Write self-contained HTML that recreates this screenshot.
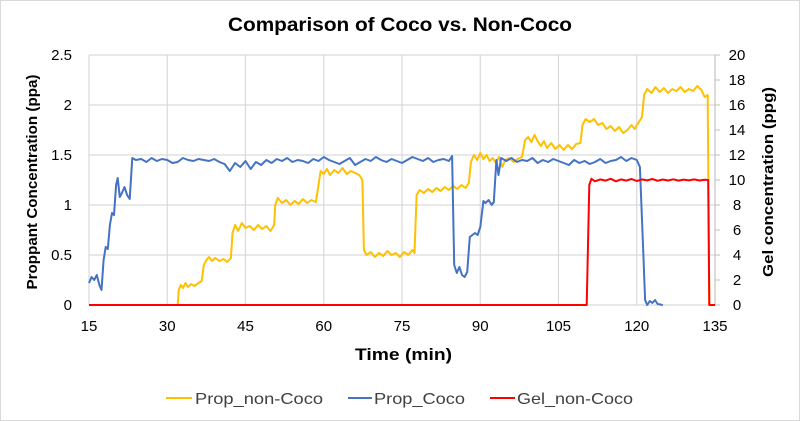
<!DOCTYPE html>
<html><head><meta charset="utf-8"><style>
body{margin:0;background:#fff;}
svg{display:block;font-family:"Liberation Sans",sans-serif;}
</style></head><body>
<svg id="chart" width="800" height="421" viewBox="0 0 800 421">
<rect x="0.5" y="0.5" width="799" height="420" fill="#fff" stroke="#d9d9d9"/>
<text x="228" y="31" font-size="19" font-weight="bold" fill="#000" textLength="344" lengthAdjust="spacingAndGlyphs">Comparison of Coco vs. Non-Coco</text>
<g id="grid"></g>
<g id="ticks"></g>
<g id="series"></g>
<text x="355" y="360" font-size="17" font-weight="bold" textLength="97" lengthAdjust="spacingAndGlyphs">Time (min)</text>
<text transform="translate(37,182) rotate(-90)" text-anchor="middle" font-size="15" font-weight="bold" textLength="215" lengthAdjust="spacingAndGlyphs">Proppant Concentration (ppa)</text>
<text transform="translate(773,182) rotate(-90)" text-anchor="middle" font-size="15" font-weight="bold" textLength="190" lengthAdjust="spacingAndGlyphs">Gel concentration (ppg)</text>
<g>
<g><line x1="166" y1="398" x2="192" y2="398" stroke="#ffc000" stroke-width="2"/><text x="195" y="404" font-size="16" fill="#404040" textLength="128" lengthAdjust="spacingAndGlyphs">Prop_non-Coco</text></g>
<g><line x1="348" y1="398" x2="372" y2="398" stroke="#4472c4" stroke-width="2"/><text x="374" y="404" font-size="16" fill="#404040" textLength="91" lengthAdjust="spacingAndGlyphs">Prop_Coco</text></g>
<g><line x1="490" y1="398" x2="515" y2="398" stroke="#ff0000" stroke-width="2"/><text x="517" y="404" font-size="16" fill="#404040" textLength="116" lengthAdjust="spacingAndGlyphs">Gel_non-Coco</text></g>
</g>
</svg>
<script>
const xTicks=[15,30,45,60,75,90,105,120,135];
const yLeftTicks=[0,0.5,1,1.5,2,2.5];
const yLeftLabels=["0","0.5","1","1.5","2","2.5"];
const yRightTicks=[0,2,4,6,8,10,12,14,16,18,20];
const propCoco=[[15,0.22],[15.5,0.28],[16,0.25],[16.5,0.3],[17,0.2],[17.4,0.15],[17.8,0.45],[18.2,0.58],[18.6,0.56],[19,0.8],[19.4,0.92],[19.8,0.9],[20.2,1.2],[20.5,1.27],[20.9,1.08],[21.3,1.12],[21.8,1.18],[22.3,1.1],[22.8,1.06],[23.3,1.47],[24,1.45],[25,1.46],[26,1.43],[27,1.47],[28,1.44],[29,1.46],[30,1.45],[31,1.42],[32,1.43],[33,1.47],[34,1.45],[35,1.44],[36,1.46],[37,1.45],[38,1.44],[39,1.46],[40,1.43],[41,1.41],[42,1.34],[43,1.42],[44,1.38],[45,1.44],[46,1.36],[47,1.43],[48,1.40],[49,1.45],[50,1.42],[51,1.46],[52,1.44],[53,1.47],[54,1.43],[55,1.45],[56,1.44],[57,1.42],[58,1.46],[59,1.44],[60,1.48],[61,1.45],[62,1.43],[63,1.41],[64,1.44],[65,1.47],[66,1.40],[67,1.43],[68,1.46],[69,1.44],[70,1.48],[71,1.45],[72,1.43],[73,1.46],[74,1.44],[75,1.42],[76,1.45],[77,1.48],[78,1.46],[79,1.44],[80,1.47],[81,1.43],[82,1.45],[83,1.46],[84,1.44],[84.6,1.49],[85,0.4],[85.5,0.32],[86,0.38],[86.5,0.3],[87,0.28],[87.5,0.33],[88,0.68],[88.5,0.7],[89,0.72],[89.5,0.7],[90,0.78],[90.6,1.04],[91,1.02],[91.6,1.05],[92.2,1.0],[92.6,1.03],[93.1,1.45],[93.5,1.3],[94,1.47],[95,1.44],[96,1.47],[97,1.43],[98,1.45],[99,1.44],[100,1.47],[101,1.42],[102,1.45],[103,1.43],[104,1.46],[105,1.44],[106,1.42],[107,1.40],[108,1.45],[109,1.42],[110,1.44],[111,1.41],[112,1.43],[113,1.46],[114,1.42],[115,1.44],[116,1.45],[117,1.48],[118,1.44],[119,1.47],[120,1.45],[120.6,1.38],[121.2,0.6],[121.6,0.05],[122,0.0],[122.5,0.04],[123,0.02],[123.5,0.05],[124,0.01],[125,0]];
const propNonCoco=[[15,0],[32,0],[32.2,0.15],[32.6,0.2],[33,0.17],[33.5,0.22],[34,0.18],[34.6,0.21],[35.2,0.19],[36,0.22],[36.6,0.24],[37,0.4],[37.5,0.45],[38,0.48],[38.6,0.44],[39.2,0.47],[40,0.44],[40.8,0.46],[41.5,0.43],[42.2,0.47],[42.5,0.72],[43,0.8],[43.6,0.74],[44.3,0.82],[45,0.77],[45.8,0.79],[46.6,0.75],[47.4,0.8],[48.2,0.76],[49,0.79],[49.8,0.74],[50.5,0.8],[50.7,1.0],[51.2,1.07],[52,1.02],[52.8,1.05],[53.6,1.0],[54.4,1.04],[55.2,1.01],[56,1.06],[56.8,1.02],[57.6,1.05],[58.5,1.03],[59,1.2],[59.4,1.34],[60,1.31],[60.6,1.36],[61.2,1.3],[62,1.35],[62.8,1.32],[63.6,1.37],[64.4,1.31],[65.2,1.34],[66,1.32],[66.8,1.3],[67.4,1.25],[67.7,0.55],[68.2,0.5],[69,0.53],[69.8,0.48],[70.6,0.52],[71.4,0.49],[72.2,0.54],[73,0.5],[73.8,0.52],[74.6,0.48],[75.4,0.53],[76.2,0.5],[77,0.55],[77.4,0.52],[77.8,1.1],[78.4,1.15],[79.2,1.12],[80,1.16],[80.8,1.13],[81.6,1.17],[82.4,1.14],[83.2,1.18],[84,1.15],[84.8,1.19],[85.6,1.16],[86.4,1.2],[87.2,1.17],[87.8,1.22],[88.2,1.43],[88.8,1.5],[89.4,1.45],[90,1.52],[90.6,1.46],[91.2,1.5],[91.8,1.44],[92.4,1.47],[93,1.42],[93.6,1.48],[94.2,1.38],[94.8,1.45],[95.6,1.47],[96.4,1.43],[97.2,1.46],[98,1.48],[98.6,1.65],[99.2,1.68],[99.8,1.63],[100.4,1.7],[101,1.64],[101.6,1.59],[102.2,1.64],[102.8,1.57],[103.6,1.62],[104.4,1.56],[105.2,1.6],[106,1.55],[106.8,1.6],[107.6,1.56],[108.4,1.61],[109.2,1.62],[109.6,1.8],[110.2,1.86],[111,1.83],[111.8,1.86],[112.6,1.8],[113.4,1.82],[114.2,1.76],[115,1.79],[115.8,1.74],[116.6,1.78],[117.4,1.72],[118.2,1.75],[119,1.8],[119.6,1.76],[120.4,1.83],[121,1.88],[121.4,2.1],[122,2.16],[122.8,2.12],[123.6,2.18],[124.4,2.13],[125.2,2.17],[126,2.12],[126.8,2.16],[127.6,2.14],[128.4,2.18],[129.2,2.13],[130,2.16],[130.8,2.14],[131.6,2.19],[132.4,2.15],[133,2.08],[133.6,2.1],[133.9,0],[135,0]];
const gelNonCoco=[[15,0],[110.4,0],[110.9,9.6],[111.3,10.1],[112,9.9],[113,10.05],[114,9.95],[115,10.1],[116,9.9],[117,10.05],[118,9.95],[119,10.08],[120,9.92],[121,10.05],[122,9.97],[123,10.08],[124,9.94],[125,10.04],[126,9.96],[127,10.06],[128,9.95],[129,10.03],[130,9.97],[131,10.05],[132,9.96],[133,10.02],[133.7,10],[133.9,0],[135,0]];

const NS='http://www.w3.org/2000/svg';
const X0=89,X1=715,YB=305,YT=55;
const xS=t=>X0+(t-15)*(X1-X0)/120;
const yL=v=>YB-v*(YB-YT)/2.5;
const yR=g=>YB-g*(YB-YT)/20;
function mk(tag,parent){const e=document.createElementNS(NS,tag);parent.appendChild(e);return e;}
const grid=document.getElementById('grid'),ticks=document.getElementById('ticks'),series=document.getElementById('series');
yLeftTicks.forEach((v,i)=>{
 const l=mk('line',grid);
 
 
 l.setAttribute('x1',X0);l.setAttribute('x2',X1);l.setAttribute('y1',yL(v));l.setAttribute('y2',yL(v));
 l.setAttribute('stroke','#d9d9d9');l.setAttribute('stroke-width','1.2');
 const t=mk('text',ticks);
 
 
 t.setAttribute('x',72);t.setAttribute('y',yL(v)+5);t.setAttribute('text-anchor','end');t.setAttribute('font-size','15');t.setAttribute('fill','#000');
 t.textContent=yLeftLabels[i];
});
xTicks.forEach(v=>{
 const l=mk('line',grid);
 
 
 l.setAttribute('x1',xS(v));l.setAttribute('x2',xS(v));l.setAttribute('y1',YT);l.setAttribute('y2',YB);
 l.setAttribute('stroke','#d9d9d9');l.setAttribute('stroke-width','1.2');
 const t=mk('text',ticks);
 
 
 t.setAttribute('x',xS(v));t.setAttribute('y',331);t.setAttribute('text-anchor','middle');t.setAttribute('font-size','15');
 t.textContent=v;
});
yRightTicks.forEach(g=>{
 const l=mk('line',grid);
 
 
 l.setAttribute('x1',X1);l.setAttribute('x2',X1+5);l.setAttribute('y1',yR(g));l.setAttribute('y2',yR(g));
 l.setAttribute('stroke','#bfbfbf');
 const t=mk('text',ticks);
 
 
 t.setAttribute('x',737);t.setAttribute('y',yR(g)+5);t.setAttribute('text-anchor','middle');t.setAttribute('font-size','15');
 t.textContent=g;
});
const ax=mk('line',grid);


ax.setAttribute('x1',X1);ax.setAttribute('x2',X1);ax.setAttribute('y1',YT);ax.setAttribute('y2',YB);ax.setAttribute('stroke','#bfbfbf');
function draw(pts,ys,color,name){
 const p=mk('polyline',series);
 
 
 p.setAttribute('points',pts.map(d=>xS(d[0]).toFixed(1)+','+ys(d[1]).toFixed(1)).join(' '));
 p.setAttribute('fill','none');p.setAttribute('stroke',color);p.setAttribute('stroke-width','2');p.setAttribute('stroke-linejoin','round');
}
draw(propNonCoco,yL,'#ffc000','prop-non-coco-line');
draw(propCoco,yL,'#4472c4','prop-coco-line');
draw(gelNonCoco,yR,'#ff0000','gel-non-coco-line');
</script>
</body></html>
